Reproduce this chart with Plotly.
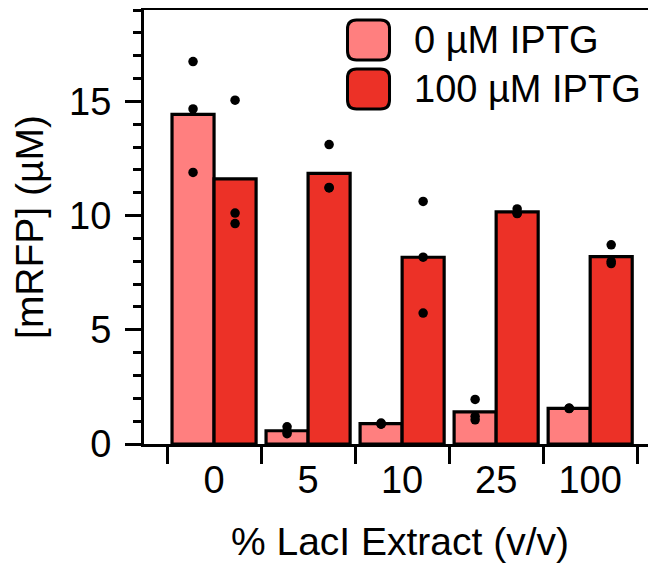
import plotly.graph_objects as go

categories = ["0", "5", "10", "25", "100"]
series_names = ["0 µM IPTG", "100 µM IPTG"]

rep_0iptg = [
    [16.74, 14.67, 11.89],
    [0.75, 0.54, 0.45],
    [0.92, 0.88, 0.87],
    [1.95, 1.21, 1.06],
    [1.57, 1.56, 1.55],
]
rep_100iptg = [
    [15.05, 10.11, 9.65],
    [13.11, 11.21, 11.23],
    [10.62, 8.18, 5.73],
    [10.29, 10.09, 10.10],
    [8.72, 8.00, 7.90],
]

colors = ["#FF7F7F", "#EC3127"]
FONT = "Liberation Sans, Arial, sans-serif"


def mean(v):
    return sum(v) / len(v)


fig = go.Figure()
for name, reps, col, grp in [
    (series_names[0], rep_0iptg, colors[0], "a"),
    (series_names[1], rep_100iptg, colors[1], "b"),
]:
    fig.add_trace(go.Bar(
        name=name, x=categories, y=[mean(r) for r in reps],
        marker=dict(color=col, line=dict(color="black", width=3.2)),
        offsetgroup=grp, showlegend=False,
    ))
for name, reps, grp in [
    (series_names[0], rep_0iptg, "a"),
    (series_names[1], rep_100iptg, "b"),
]:
    xs, ys = [], []
    for c, r in zip(categories, reps):
        for v in r:
            xs.append(c)
            ys.append(v)
    fig.add_trace(go.Scatter(
        x=xs, y=ys, mode="markers", offsetgroup=grp,
        marker=dict(color="black", size=9.5), showlegend=False,
        name=name + " replicates",
    ))

# legend drawn as rounded swatches + text
def rounded(w, h, r):
    x0, x1, y0, y1 = -w / 2, w / 2, -h / 2, h / 2
    return (f"M{x0+r},{y0} L{x1-r},{y0} Q{x1},{y0} {x1},{y0+r} "
            f"L{x1},{y1-r} Q{x1},{y1} {x1-r},{y1} L{x0+r},{y1} "
            f"Q{x0},{y1} {x0},{y1-r} L{x0},{y0+r} Q{x0},{y0} {x0+r},{y0} Z")

legend_y = [0.931, 0.818]
for name, col, ly in zip(series_names, colors, legend_y):
    fig.add_shape(type="path", xref="paper", yref="paper",
                  xsizemode="pixel", ysizemode="pixel",
                  xanchor=0.4385, yanchor=ly,
                  path=rounded(42, 40, 9),
                  fillcolor=col, line=dict(color="black", width=3))
    fig.add_annotation(x=0.5234, y=ly, xref="paper", yref="paper",
                       xanchor="left", yanchor="middle", showarrow=False,
                       text=name, font=dict(size=38, color="black", family=FONT))

# page body has an 8px margin: size the figure so the plot lands where it should
fig.update_layout(
    width=648, height=561,
    margin=dict(l=136, r=0, t=2, b=125, autoexpand=False),
    paper_bgcolor="white", plot_bgcolor="white",
    font=dict(family=FONT, size=38, color="black"),
    barmode="group", bargap=0.106, bargroupgap=0,
    scattermode="group", scattergap=0.106,
    showlegend=False,
)
fig.update_xaxes(
    type="category", categoryorder="array", categoryarray=categories,
    range=[-0.745, 4.70], tickson="boundaries",
    ticks="outside", ticklen=17, tickwidth=3, tickcolor="black",
    showline=True, linewidth=3, linecolor="black", mirror=True,
    showgrid=False, zeroline=False,
    title=dict(text="% LacI Extract (v/v)", standoff=29,
               font=dict(size=39)),
    tickfont=dict(size=38),
)
fig.update_yaxes(
    range=[0, 19], tickvals=[0, 5, 10, 15],
    ticks="outside", ticklen=16, tickwidth=3, tickcolor="black",
    minor=dict(dtick=1, ticks="outside", ticklen=8, tickwidth=3, tickcolor="black"),
    showline=True, linewidth=3, linecolor="black",
    showgrid=False, zeroline=False, ticklabelstandoff=6,
    title=dict(text="[mRFP] (µM)", standoff=15, font=dict(size=39)),
    tickfont=dict(size=38),
)

fig.write_html("out.html")
